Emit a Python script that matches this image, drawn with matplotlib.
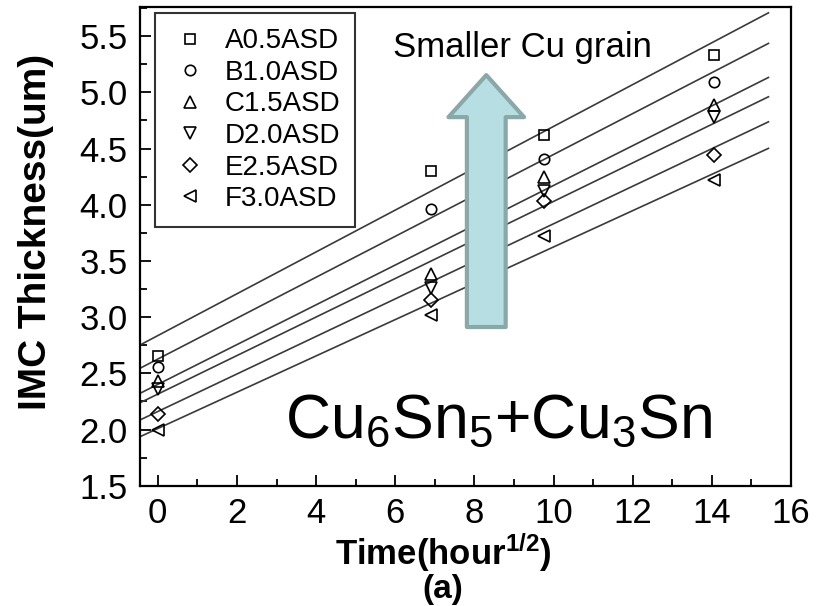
import matplotlib
matplotlib.use("Agg")
import matplotlib.pyplot as plt
import matplotlib.patches as mpatches
from matplotlib.ticker import MultipleLocator

plt.rcParams['font.family'] = ['Liberation Sans', 'DejaVu Sans']
plt.rcParams['mathtext.fontset'] = 'custom'
plt.rcParams['mathtext.rm'] = 'Liberation Sans'
plt.rcParams['mathtext.it'] = 'Liberation Sans:italic'
plt.rcParams['mathtext.bf'] = 'Liberation Sans:bold'

# ---- data ----
time_x = [0, 6.9, 9.77, 14.05]
labels = ['A0.5ASD', 'B1.0ASD', 'C1.5ASD', 'D2.0ASD', 'E2.5ASD', 'F3.0ASD']
markers = ['s', 'o', '^', 'v', 'D', '<']
A = [2.65, 4.30, 4.62, 5.33]
B = [2.56, 3.96, 4.41, 5.09]
C = [2.43, 3.38, 4.25, 4.89]
D = [2.36, 3.26, 4.12, 4.78]
E = [2.14, 3.15, 4.03, 4.44]
F = [2.00, 3.02, 3.72, 4.22]
series = [A, B, C, D, E, F]
fit_x = [-0.45, 15.43]
fit_start = [2.752, 2.545, 2.322, 2.238, 2.085, 1.936]
fit_end = [5.708, 5.436, 5.133, 4.961, 4.738, 4.502]
xticks = [0, 2, 4, 6, 8, 10, 12, 14, 16]
yticks = [1.5, 2.0, 2.5, 3.0, 3.5, 4.0, 4.5, 5.0, 5.5]

fig = plt.figure(figsize=(8.27, 6.06), dpi=100)
ax = fig.add_axes([140/827, 1-485.7/606, (791-140)/827, (485.7-7)/606])

msizes = {'s': 7.5, 'o': 7.5, '^': 8, 'v': 8, 'D': 7, '<': 8}
for ys, m, lab in zip(series, markers, labels):
    ax.plot(time_x, ys, linestyle='none', marker=m, ms=msizes[m], mfc='none',
            mec='black', mew=1.2, label=lab, zorder=3)
for s, e in zip(fit_start, fit_end):
    ax.plot(fit_x, [s, e], color='#3a3a3a', lw=1.2, zorder=2)

ax.set_xlim(-0.45, 16)
ax.set_ylim(1.5, 5.76)
ax.set_xticks(xticks)
ax.set_yticks(yticks)
ax.xaxis.set_minor_locator(MultipleLocator(1))
ax.yaxis.set_minor_locator(MultipleLocator(0.25))
ax.tick_params(which='both', direction='in', width=1.3, labelsize=25)
ax.tick_params(which='major', length=8)
ax.tick_params(which='minor', length=5)
ax.tick_params(axis='x', pad=8)
ax.tick_params(axis='y', pad=9)
for sp in ax.spines.values():
    sp.set_linewidth(1.6)

ax.set_ylabel('IMC Thickness(um)', fontsize=28, fontweight='bold')
ax.yaxis.label.set_va('center')
ax.yaxis.set_label_coords(-(140-36)/651, (485.7-232)/478.7)
ax.set_xlabel(r'Time(hour$^{\mathbf{1/2}}$)', fontsize=25, fontweight='bold')
ax.xaxis.label.set_va('baseline')
ax.xaxis.set_label_coords((443-140)/651, -(565-485.7)/478.7)
fig.text(443/827, 1-598/606, '(a)', fontsize=24, fontweight='bold', ha='center', va='baseline')

leg = ax.legend(loc='upper left', bbox_to_anchor=(155/827, 1-13/606),
                bbox_transform=fig.transFigure, borderaxespad=0, numpoints=1,
                fontsize=20, frameon=True, fancybox=False, handlelength=1.4,
                handletextpad=0.55, borderpad=0.55, labelspacing=0.2)
leg.get_frame().set_edgecolor('black')
leg.get_frame().set_linewidth(1.5)

arrow = mpatches.FancyArrow(8.3, 2.912, 0, 2.242, width=0.98, head_width=1.91,
                            head_length=0.374, length_includes_head=True,
                            fc='#b7dfe3', ec='#8aa8a8', lw=3, joinstyle='round', zorder=4)
ax.add_patch(arrow)

ax.text(393, 606-57, 'Smaller Cu grain', transform=None, fontsize=25, va='baseline', ha='left')
ax.text(285, 606-438, r'Cu$_6$Sn$_5$+Cu$_3$Sn', transform=None, fontsize=45, va='baseline', ha='left')

fig.savefig('out.png', dpi=100, facecolor='white')
